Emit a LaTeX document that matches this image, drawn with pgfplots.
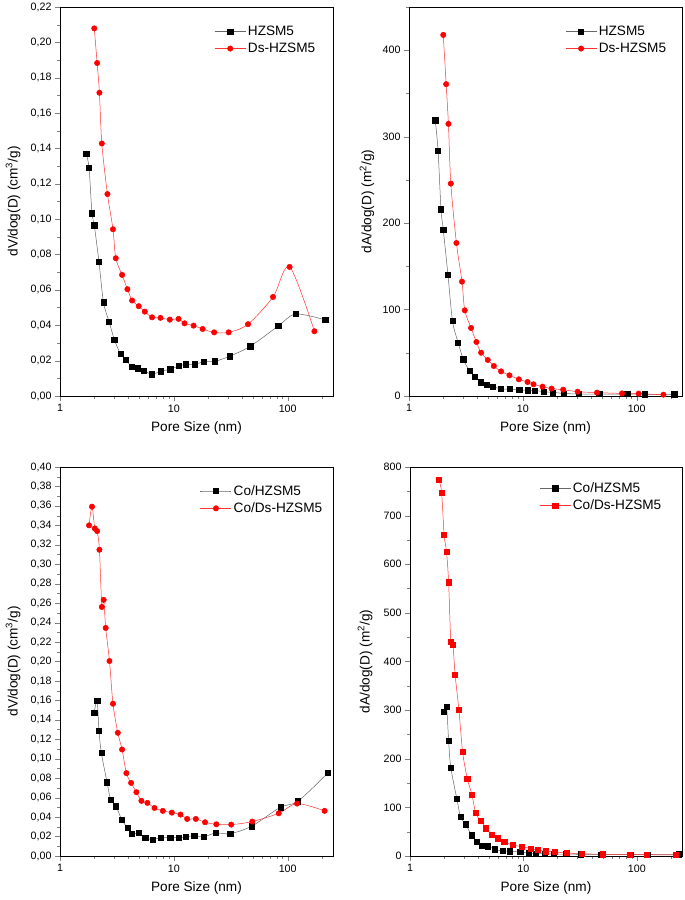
\documentclass[border=0pt]{standalone}
\usepackage{fontspec}
\setmainfont{Liberation Sans}
\usepackage{pgfplots}
\pgfplotsset{compat=1.18}

\begin{document}
\begin{tikzpicture}
\path[use as bounding box] (0pt,0pt) rectangle (685pt,900pt);

% Panel 1
\begin{axis}[at={(60pt,504pt)}, anchor=south west,
  xmode=log, xmin=1, xmax=250, ymin=0, ymax=0.22,
  scale only axis, width=273pt, height=389pt,
  tick pos=left, tick align=outside,
  major tick length=5pt, minor tick length=3pt,
  log ticks with fixed point,
  xtick={1,10,100},
  minor xtick={2,3,4,5,6,7,8,9,20,30,40,50,60,70,80,90,200},
  ytick distance=0.02, minor y tick num=1,
  /pgf/number format/assume math mode=true,
  yticklabel style={/pgf/number format/fixed, /pgf/number format/fixed zerofill, /pgf/number format/precision=2, /pgf/number format/use comma},
  tick label style={font=\fontsize{10.7}{12}\selectfont},
  label style={font=\fontsize{13.6}{16}\selectfont},
  xlabel={Pore Size (nm)},
  x label style={at={(axis description cs:0.5,-0.082)}, anchor=center},
  ylabel={dV/dog(D) (cm\textsuperscript{3}/g)},
  y label style={at={(axis description cs:-0.172,0.5)}, anchor=center},
  legend style={draw=none, fill=none, font=\fontsize{13.6}{16}\selectfont,
      at={(0.565,0.915)}, anchor=west, inner sep=0pt, row sep=2pt, cells={anchor=west}},
  legend image code/.code={\draw[mark repeat=2,mark phase=2] plot coordinates {(0pt,0pt) (15.5pt,0pt) (31pt,0pt)};},
  axis line style={line width=0.7pt},
  ]
\addplot[black!60, line width=0.5pt, smooth, mark=square*, mark size=2.6pt, mark options={black, fill=black, solid}] table {
1.70 0.1370
1.80 0.1289
1.91 0.1034
2.00 0.0966
2.20 0.0758
2.41 0.0530
2.70 0.0420
3.00 0.0320
3.40 0.0238
3.78 0.0204
4.30 0.0164
4.79 0.0157
5.48 0.0143
6.44 0.0123
7.63 0.0140
9.29 0.0151
11.07 0.0170
12.76 0.0179
15.2 0.0179
18.4 0.0194
22.9 0.0196
30.9 0.0225
46.9 0.0281
82.7 0.0396
117.6 0.0464
214 0.0430
};
\addlegendentry{HZSM5}
\addplot[red!80, line width=0.5pt, smooth, mark=*, mark size=2.7pt, mark options={red, fill=red}] table {
2.00 0.2079
2.12 0.1883
2.22 0.1715
2.33 0.1428
2.61 0.1142
2.92 0.0943
3.09 0.0779
3.51 0.0685
3.91 0.0604
4.30 0.0540
4.92 0.0508
5.56 0.0477
6.44 0.0445
7.63 0.0442
9.22 0.0432
11.0 0.0436
12.4 0.0411
14.9 0.0398
17.9 0.0379
22.6 0.0360
30.3 0.0360
44.8 0.0406
74.3 0.0560
104 0.0730
171.7 0.0366
};
\addlegendentry{Ds-HZSM5}
\end{axis}

% Panel 2
\begin{axis}[at={(409pt,504pt)}, anchor=south west,
  xmode=log, xmin=1, xmax=250, ymin=0, ymax=450,
  scale only axis, width=273pt, height=389pt,
  tick pos=left, tick align=outside,
  major tick length=5pt, minor tick length=3pt,
  log ticks with fixed point,
  xtick={1,10,100},
  minor xtick={2,3,4,5,6,7,8,9,20,30,40,50,60,70,80,90,200},
  ytick distance=100, minor y tick num=1,
  /pgf/number format/assume math mode=true,
  tick label style={font=\fontsize{10.7}{12}\selectfont},
  label style={font=\fontsize{13.6}{16}\selectfont},
  xlabel={Pore Size (nm)},
  x label style={at={(axis description cs:0.5,-0.082)}, anchor=center},
  ylabel={dA/dog(D) (m\textsuperscript{2}/g)},
  y label style={at={(axis description cs:-0.154,0.5)}, anchor=center},
  legend style={draw=none, fill=none, font=\fontsize{13.6}{16}\selectfont,
      at={(0.572,0.915)}, anchor=west, inner sep=0pt, row sep=2pt, cells={anchor=west}},
  legend image code/.code={\draw[mark repeat=2,mark phase=2] plot coordinates {(0pt,0pt) (15.5pt,0pt) (31pt,0pt)};},
  axis line style={line width=0.7pt},
  ]
\addplot[black!60, line width=0.5pt, smooth, mark=square*, mark size=2.6pt, mark options={black, fill=black, solid}] table {
1.70 319
1.80 284
1.91 216
2.00 192.5
2.20 140
2.41 86.8
2.70 62
3.00 42.4
3.40 29
3.78 22
4.30 15.8
4.79 12.7
5.48 10.8
6.44 8.1
7.63 8
9.29 7
11.07 6.6
12.76 6.5
15.2 5
18.4 4.2
22.9 3
30.9 2.3
46.9 2.3
82.7 2.2
117.6 2
214 2
};
\addlegendentry{HZSM5}
\addplot[red!80, line width=0.5pt, smooth, mark=*, mark size=2.7pt, mark options={red, fill=red}] table {
2.00 417.7
2.12 360.7
2.22 314.8
2.33 245.7
2.61 177
2.92 132.3
3.09 99.1
3.51 78.7
3.91 62.5
4.30 50.1
4.92 41.7
5.56 34.7
6.44 28.5
7.63 23.9
9.22 19.3
11.0 16.2
12.4 13.5
14.9 10.8
17.9 8.5
22.6 7.3
30.3 5
44.8 3.9
74.3 3
104 2.7
171.7 1.5
};
\addlegendentry{Ds-HZSM5}
\end{axis}

% Panel 3
\begin{axis}[at={(60pt,44pt)}, anchor=south west,
  xmode=log, xmin=1, xmax=250, ymin=0, ymax=0.40,
  scale only axis, width=273pt, height=389pt,
  tick pos=left, tick align=outside,
  major tick length=5pt, minor tick length=3pt,
  log ticks with fixed point,
  xtick={1,10,100},
  minor xtick={2,3,4,5,6,7,8,9,20,30,40,50,60,70,80,90,200},
  ytick distance=0.02, minor y tick num=1,
  /pgf/number format/assume math mode=true,
  yticklabel style={/pgf/number format/fixed, /pgf/number format/fixed zerofill, /pgf/number format/precision=2, /pgf/number format/use comma},
  tick label style={font=\fontsize{10.7}{12}\selectfont},
  label style={font=\fontsize{13.6}{16}\selectfont},
  xlabel={Pore Size (nm)},
  x label style={at={(axis description cs:0.5,-0.082)}, anchor=center},
  ylabel={dV/dog(D) (cm\textsuperscript{3}/g)},
  y label style={at={(axis description cs:-0.172,0.5)}, anchor=center},
  legend style={draw=none, fill=none, font=\fontsize{13.6}{16}\selectfont,
      at={(0.513,0.916)}, anchor=west, inner sep=0pt, row sep=2pt, cells={anchor=west}},
  legend image code/.code={\draw[mark repeat=2,mark phase=2] plot coordinates {(0pt,0pt) (15.5pt,0pt) (31pt,0pt)};},
  axis line style={line width=0.7pt},
  ]
\addplot[black!60, line width=0.5pt, smooth, mark=square*, mark size=2.6pt, mark options={black, fill=black, solid}] table {
2.00 0.1476
2.12 0.1600
2.20 0.1288
2.31 0.1058
2.59 0.0759
2.79 0.0577
3.11 0.0512
3.49 0.0371
3.91 0.0292
4.30 0.0227
4.89 0.0237
5.60 0.0189
6.49 0.0168
7.63 0.0189
9.29 0.0189
11.07 0.0189
12.76 0.0196
15.1 0.0209
18.2 0.0196
23.3 0.0237
31.3 0.0230
48.2 0.0306
86.2 0.0501
123 0.0563
226 0.0855
};
\addlegendentry{Co/HZSM5}
\addplot[red!80, line width=0.5pt, smooth, mark=*, mark size=2.7pt, mark options={red, fill=red}] table {
1.80 0.3400
1.91 0.3592
2.02 0.3368
2.12 0.3341
2.22 0.3149
2.33 0.2561
2.42 0.2634
2.52 0.2345
2.72 0.2005
2.92 0.1566
3.22 0.1267
3.51 0.1095
3.83 0.0852
4.21 0.0752
4.69 0.0656
5.19 0.0567
5.86 0.0546
6.76 0.0494
8.0 0.0464
9.6 0.0446
11.45 0.0426
13.1 0.0381
15.6 0.0381
18.8 0.0347
23.6 0.0326
31.9 0.0323
48.9 0.0354
83.4 0.0439
120.8 0.0539
211 0.0464
};
\addlegendentry{Co/Ds-HZSM5}
\end{axis}

% Panel 4
\begin{axis}[at={(410pt,44pt)}, anchor=south west,
  xmode=log, xmin=1, xmax=250, ymin=0, ymax=800,
  scale only axis, width=272pt, height=389pt,
  tick pos=left, tick align=outside,
  major tick length=5pt, minor tick length=3pt,
  log ticks with fixed point,
  xtick={1,10,100},
  minor xtick={2,3,4,5,6,7,8,9,20,30,40,50,60,70,80,90,200},
  ytick distance=100, minor y tick num=1,
  /pgf/number format/assume math mode=true,
  tick label style={font=\fontsize{10.7}{12}\selectfont},
  label style={font=\fontsize{13.6}{16}\selectfont},
  xlabel={Pore Size (nm)},
  x label style={at={(axis description cs:0.5,-0.082)}, anchor=center},
  ylabel={dA/dog(D) (m\textsuperscript{2}/g)},
  y label style={at={(axis description cs:-0.165,0.5)}, anchor=center},
  legend style={draw=none, fill=none, font=\fontsize{13.6}{16}\selectfont,
      at={(0.475,0.923)}, anchor=west, inner sep=0pt, row sep=2pt, cells={anchor=west}},
  legend image code/.code={\draw[mark repeat=2,mark phase=2] plot coordinates {(0pt,0pt) (15.5pt,0pt) (31pt,0pt)};},
  axis line style={line width=0.7pt},
  ]
\addplot[black!60, line width=0.5pt, smooth, mark=square*, mark size=2.6pt, mark options={black, fill=black, solid}] table {
1.99 296.7
2.10 307.7
2.19 237
2.29 182
2.59 117.4
2.79 80.4
3.09 65.2
3.50 42.6
3.90 29.5
4.32 21.3
4.88 19.9
5.59 13.7
6.53 10.3
7.59 9.6
9.37 8.2
11.2 6.2
12.8 4.8
15.3 4.8
18.4 4.1
23.8 4
31.9 3.4
48.5 2.7
88 2.7
125 2.7
234 3.4
};
\addlegendentry{Co/HZSM5}
\addplot[red!80, line width=0.5pt, smooth, mark=square*, mark size=2.6pt, mark options={red, fill=red}] table {
1.80 774
1.90 747
2.00 660
2.10 625
2.19 563
2.29 440
2.39 435
2.50 372
2.70 300
2.91 214
3.20 159
3.52 126
3.79 88.6
4.20 72
4.69 57
5.22 43.3
5.90 36.4
6.77 28.8
8.02 22.7
9.63 19.2
11.6 15.1
13.3 12.4
15.7 9.6
18.9 8.2
24 6.2
32.6 4.8
50 3.4
86 2.7
123 2.7
220 2
};
\addlegendentry{Co/Ds-HZSM5}
\end{axis}
\end{tikzpicture}
\end{document}
